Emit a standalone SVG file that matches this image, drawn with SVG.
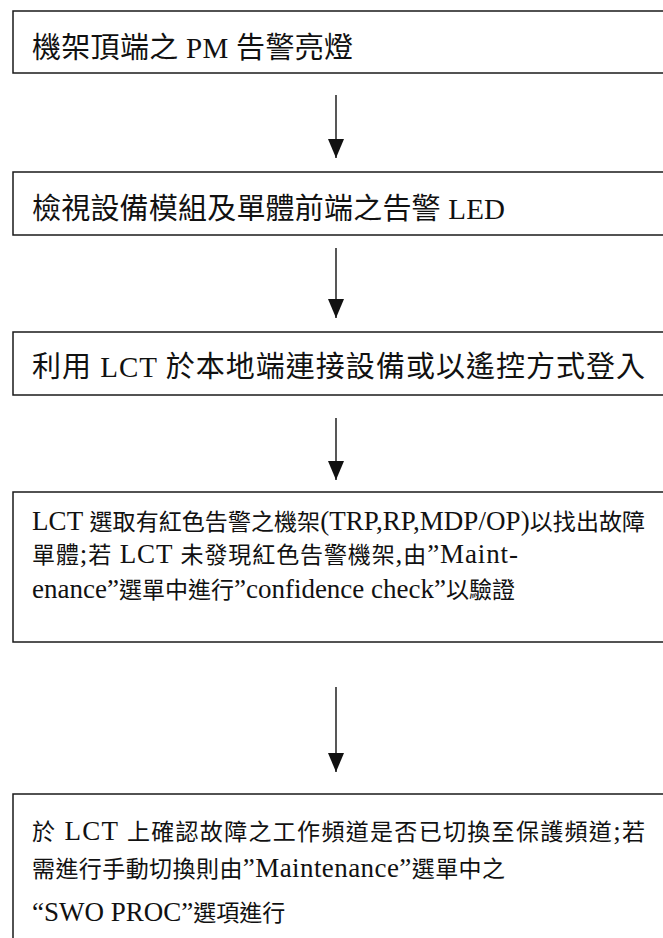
<svg xmlns="http://www.w3.org/2000/svg" width="663" height="938" viewBox="0 0 663 938">
<style>
.box{fill:#fff;stroke:#1a1a1a;stroke-width:1.5}
.t{font-family:"Liberation Serif","Noto Sans CJK TC",serif;fill:#111}
.big{font-size:29px}
.small{font-size:23px}
.l{font-size:27px}
.conn line{stroke:#111;stroke-width:1.4}
</style>
<defs>
<marker id="ah" markerUnits="userSpaceOnUse" viewBox="0 0 19 16" markerWidth="19" markerHeight="16" refX="19" refY="8" orient="auto">
<path d="M0,0 L19,8 L0,16 z" fill="#111"/>
</marker>
</defs>
<rect width="663" height="938" fill="#fff"/>
<g id="connectors" class="conn">
<line x1="336" y1="95" x2="336" y2="158" marker-end="url(#ah)"/>
<line x1="336" y1="248" x2="336" y2="318" marker-end="url(#ah)"/>
<line x1="336" y1="418" x2="336" y2="480" marker-end="url(#ah)"/>
<line x1="336" y1="687" x2="336" y2="772" marker-end="url(#ah)"/>
</g>
<g id="node1">
<rect class="box" x="13" y="11" width="700" height="62"/>
<text class="t big" x="32" y="58" textLength="321" lengthAdjust="spacing">機架頂端之 PM 告警亮燈</text>
</g>
<g id="node2">
<rect class="box" x="13" y="172" width="700" height="63"/>
<text class="t big" x="32" y="219" textLength="473" lengthAdjust="spacing">檢視設備模組及單體前端之告警 LED</text>
</g>
<g id="node3">
<rect class="box" x="13" y="332" width="700" height="63"/>
<text class="t big" x="32" y="377" textLength="613" lengthAdjust="spacing">利用 LCT 於本地端連接設備或以遙控方式登入</text>
</g>
<g id="node4">
<rect class="box" x="13" y="492" width="700" height="150"/>
<text class="t small" x="32" y="530" textLength="613" lengthAdjust="spacing"><tspan class="l">LCT </tspan>選取有紅色告警之機架<tspan class="l">(TRP,RP,MDP/OP)</tspan>以找出故障</text>
<text class="t small" x="32" y="563" textLength="486" lengthAdjust="spacing">單體<tspan class="l">;</tspan>若<tspan class="l"> LCT </tspan>未發現紅色告警機架<tspan class="l">,</tspan>由<tspan class="l">”Maint-</tspan></text>
<text class="t small" x="32" y="598"><tspan class="l">enance”</tspan>選單中進行<tspan class="l">”confidence check”</tspan>以驗證</text>
</g>
<g id="node5">
<rect class="box" x="13" y="794" width="700" height="200"/>
<text class="t small" x="32" y="840" textLength="613" lengthAdjust="spacing">於<tspan class="l"> LCT </tspan>上確認故障之工作頻道是否已切換至保護頻道<tspan class="l">;</tspan>若</text>
<text class="t small" x="32" y="877" textLength="473" lengthAdjust="spacing">需進行手動切換則由<tspan class="l">”Maintenance”</tspan>選單中之</text>
<text class="t small" x="32" y="921"><tspan class="l">“SWO PROC”</tspan>選項進行</text>
</g>
</svg>
